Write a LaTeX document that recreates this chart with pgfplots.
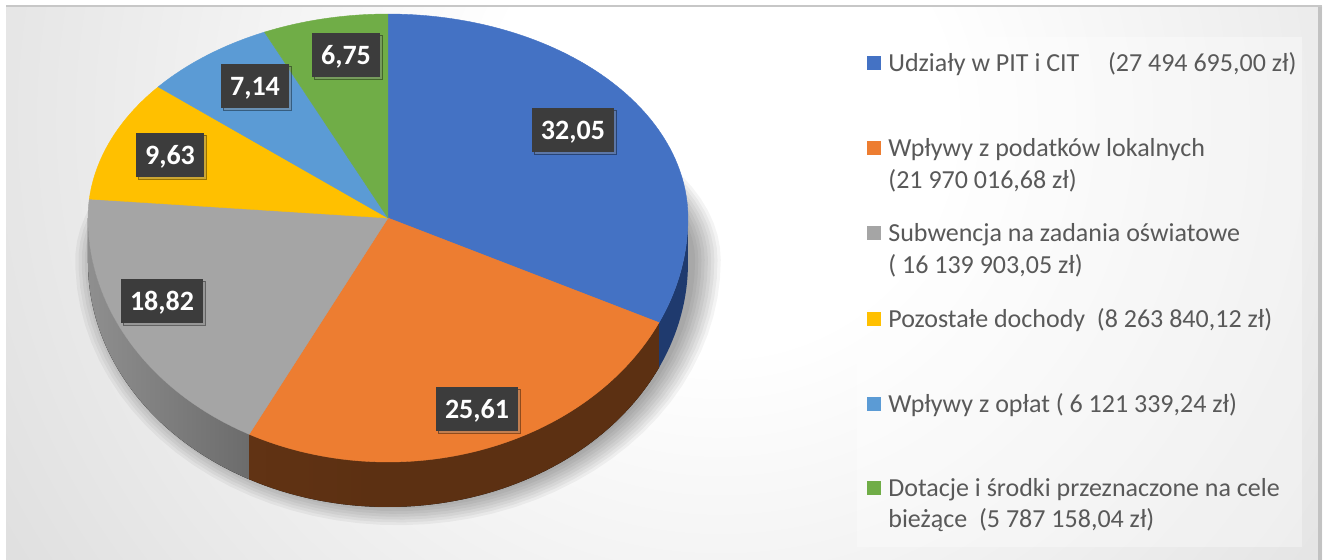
\documentclass[border=0pt]{standalone}
\usepackage{pgfplots}
\pgfplotsset{compat=1.18}
\usepackage{pgfplotstable}
\usepgfplotslibrary{fillbetween}
\usetikzlibrary{shadows}
\usepackage{fontspec}
\setmainfont{Carlito}

\definecolor{cBlue}{HTML}{4472C4}
\definecolor{cOrange}{HTML}{ED7D31}
\definecolor{cGray}{HTML}{A5A5A5}
\definecolor{cYellow}{HTML}{FFC000}
\definecolor{cLBlue}{HTML}{5B9BD5}
\definecolor{cGreen}{HTML}{70AD47}
\definecolor{txt}{HTML}{595959}
\definecolor{boxc}{HTML}{3C3C3C}
\definecolor{gsideA}{HTML}{A0A0A0}
\definecolor{gsideM}{HTML}{7A7A7A}
\definecolor{gsideB}{HTML}{5A5A5A}
\definecolor{osideA}{HTML}{8E4C1E}
\definecolor{osideM}{HTML}{653515}
\definecolor{osideB}{HTML}{5C3012}
\definecolor{bside}{HTML}{1F3A6E}

\pgfdeclareradialshading{bgshade}{\pgfpoint{0bp}{0bp}}{color(0bp)=(white); color(6bp)=(white); color(38bp)=(black!25); color(50bp)=(black!30)}
\pgfdeclarehorizontalshading{oshade}{100bp}{color(0bp)=(osideA); color(14bp)=(osideM); color(40bp)=(osideB); color(100bp)=(osideB)}
\pgfdeclarehorizontalshading{gshade}{100bp}{color(0bp)=(gsideA); color(55bp)=(gsideM); color(100bp)=(gsideB)}

% share of each source in % ; label centre (axis units = pixels)
\pgfplotstableread[col sep=comma]{
pct,lx,ly
32.05,573,430
25.61,477,151
18.82,162,259
9.63,170,405
7.14,255,474
6.75,346,505
}\slices

\pgfplotstablegetelem{0}{pct}\of\slices\edef\pA{\pgfplotsretval}
\pgfplotstablegetelem{1}{pct}\of\slices\edef\pB{\pgfplotsretval}
\pgfplotstablegetelem{2}{pct}\of\slices\edef\pC{\pgfplotsretval}
\pgfplotstablegetelem{3}{pct}\of\slices\edef\pD{\pgfplotsretval}
\pgfplotstablegetelem{4}{pct}\of\slices\edef\pE{\pgfplotsretval}
\pgfplotstablegetelem{5}{pct}\of\slices\edef\pF{\pgfplotsretval}
\pgfmathsetmacro\bA{90-3.6*\pA}
\pgfmathsetmacro\bB{\bA-3.6*\pB}
\pgfmathsetmacro\bC{\bB-3.6*\pC}
\pgfmathsetmacro\bD{\bC-3.6*\pD}
\pgfmathsetmacro\bE{\bD-3.6*\pE}
\pgfmathsetmacro\bF{\bE-3.6*\pF}

\tikzset{declare function={
  ex(\a)=388+300*cos(\a);
  ey(\a)=342+sin(\a)*ifthenelse(sin(\a)>0,204,244);
}}

\newcommand\lgt[3]{\node[anchor=base west, inner sep=0pt, text=txt, font=\fontsize{13bp}{15bp}\selectfont] at (axis cs:#1,#2) {#3};}
\newcommand\sq[2]{\fill[#2] (axis cs:867,#1-7) rectangle (axis cs:881,#1+7);}

\begin{document}
\begin{tikzpicture}
\fill[white] (0,0) rectangle (663bp,280bp);
\begin{scope}
\clip (3bp,0) rectangle (661bp,276.5bp);
\shade[shading=bgshade, overlay] (360bp,220bp) circle (480bp);
\end{scope}
\fill[black!22] (3bp,276.5bp) rectangle (661bp,277.5bp);
\fill[black!24] (659bp,0) rectangle (661bp,276.5bp);

\begin{axis}[at={(0,0)}, anchor=south west, x=0.5bp, y=0.5bp,
  xmin=0, xmax=1326, ymin=0, ymax=560, hide axis, clip=false]

% soft shadow
\pgfplotsinvokeforeach{1,...,9}{
\addplot[draw=none, fill=black, fill opacity=0.045, domain=0:360, samples=90, variable=\t]
  ({398+(294+3.2*#1)*cos(\t)}, {300+sin(\t)*ifthenelse(sin(\t)>0,150+3*#1,240+2.8*#1)});
}

% side faces
\addplot[name path=gt, draw=none, domain=-180:\bB, samples=50, variable=\t] ({ex(\t)},{ey(\t)});
\addplot[name path=gb, draw=none, domain=-180:\bB, samples=50, variable=\t] ({ex(\t)},{ey(\t)-45});
\addplot[shading=gshade, draw=none] fill between[of=gt and gb, on layer=main];

\addplot[name path=ot, draw=none, domain=\bB:\bA, samples=60, variable=\t] ({ex(\t)},{ey(\t)});
\addplot[name path=ob, draw=none, domain=\bB:\bA, samples=60, variable=\t] ({ex(\t)},{ey(\t)-45});
\addplot[shading=oshade, draw=none] fill between[of=ot and ob, on layer=main];

\addplot[name path=bt, draw=none, domain=\bA:0, samples=30, variable=\t] ({ex(\t)},{ey(\t)});
\addplot[name path=bb, draw=none, domain=\bA:0, samples=30, variable=\t] ({ex(\t)},{ey(\t)-45});
\addplot[fill=bside, draw=none] fill between[of=bt and bb, on layer=main];

% top faces
\addplot[fill=cBlue, draw=cBlue, line width=0.2bp, domain=\bA:90, samples=80, variable=\t] ({ex(\t)},{ey(\t)}) -- (axis cs:388,342) -- cycle;
\addplot[fill=cOrange, draw=cOrange, line width=0.2bp, domain=\bB:\bA, samples=70, variable=\t] ({ex(\t)},{ey(\t)}) -- (axis cs:388,342) -- cycle;
\addplot[fill=cGray, draw=cGray, line width=0.2bp, domain=\bC:\bB, samples=60, variable=\t] ({ex(\t)},{ey(\t)}) -- (axis cs:388,342) -- cycle;
\addplot[fill=cYellow, draw=cYellow, line width=0.2bp, domain=\bD:\bC, samples=40, variable=\t] ({ex(\t)},{ey(\t)}) -- (axis cs:388,342) -- cycle;
\addplot[fill=cLBlue, draw=cLBlue, line width=0.2bp, domain=\bE:\bD, samples=40, variable=\t] ({ex(\t)},{ey(\t)}) -- (axis cs:388,342) -- cycle;
\addplot[fill=cGreen, draw=cGreen, line width=0.2bp, domain=\bF:\bE, samples=40, variable=\t] ({ex(\t)},{ey(\t)}) -- (axis cs:388,342) -- cycle;

% data labels
\addplot[only marks, mark=none, point meta=explicit,
  nodes near coords,
  nodes near coords style={anchor=center, fill=boxc, text=white,
    font=\bfseries\fontsize{14bp}{16bp}\selectfont,
    text height=9bp, text depth=0bp, minimum height=22bp, inner xsep=4.5bp,
    drop shadow={opacity=0.4, shadow xshift=1.2bp, shadow yshift=-1.2bp},
    /pgf/number format/.cd, use comma, fixed, fixed zerofill, precision=2, assume math mode=true}]
  table[x=lx, y=ly, meta=pct] {\slices};

% legend
\fill[white, opacity=0.35] (axis cs:857,13) rectangle (axis cs:1302,523);
\sq{497}{cBlue}\lgt{888}{489}{Udziały w PIT i CIT\hspace{1.1em}(27 494 695,00 zł)}
\sq{412}{cOrange}\lgt{888}{404}{Wpływy z podatków lokalnych}
\lgt{888}{372}{(21 970 016,68 zł)}
\sq{327}{cGray}\lgt{888}{319}{Subwencja na zadania oświatowe}
\lgt{888}{287}{( 16 139 903,05 zł)}
\sq{241}{cYellow}\lgt{888}{233}{Pozostałe dochody\ \ (8 263 840,12 zł)}
\sq{156}{cLBlue}\lgt{888}{148}{Wpływy z opłat ( 6 121 339,24 zł)}
\sq{72}{cGreen}\lgt{888}{64}{Dotacje i środki przeznaczone na cele}
\lgt{888}{33}{bieżące\ \ (5 787 158,04 zł)}
\end{axis}
\end{tikzpicture}
\end{document}
